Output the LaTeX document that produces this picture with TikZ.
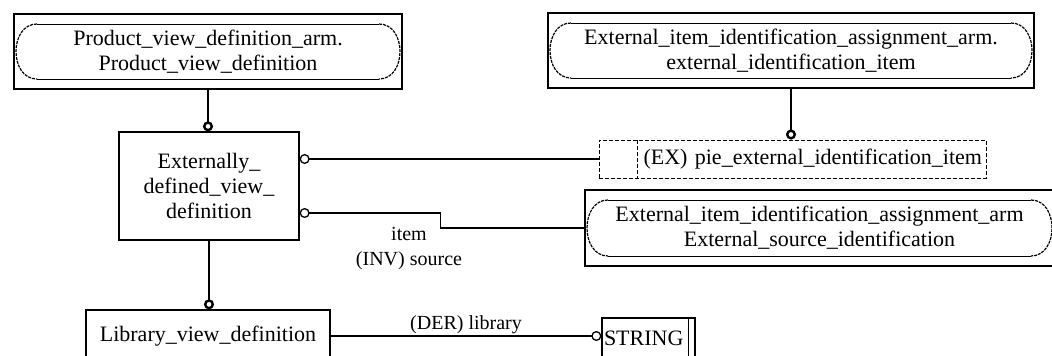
\documentclass[tikz,border=0pt]{standalone}
\usepackage{fontspec}
\setmainfont{Liberation Serif}
\usetikzlibrary{arrows.meta,calc,positioning}

% rounded inner outline with broken ends
\newcommand{\armoutline}{%
\draw[line width=1pt]
  ([xshift=23pt,yshift=-10pt]path picture bounding box.north west) --
  ([xshift=-23pt,yshift=-10pt]path picture bounding box.north east);
\draw[line width=1pt]
  ([xshift=23pt,yshift=10pt]path picture bounding box.south west) --
  ([xshift=-23pt,yshift=10pt]path picture bounding box.south east);
\draw[line width=1.2pt,dash pattern=on 3pt off 1pt]
  ([xshift=23pt,yshift=-10pt]path picture bounding box.north west)
  .. controls ([xshift=-5pt,yshift=-10pt]path picture bounding box.north west)
  and ([xshift=-5pt,yshift=10pt]path picture bounding box.south west) ..
  ([xshift=23pt,yshift=10pt]path picture bounding box.south west);
\draw[line width=1.2pt,dash pattern=on 3pt off 1pt]
  ([xshift=-23pt,yshift=-10pt]path picture bounding box.north east)
  .. controls ([xshift=5pt,yshift=-10pt]path picture bounding box.north east)
  and ([xshift=5pt,yshift=10pt]path picture bounding box.south east) ..
  ([xshift=-23pt,yshift=10pt]path picture bounding box.south east);
}

\begin{document}
\begin{tikzpicture}[
x=1pt,y=-1pt,
font=\fontsize{22}{25}\selectfont,
armbox/.style={
  draw,
  line width=1.3pt,
  minimum height=75pt,
  align=center,
  inner sep=0pt,
  path picture={\armoutline}
},
entbox/.style={
  draw,
  line width=1.3pt,
  align=center,
  inner sep=0pt
},
piebox/.style={
  draw,
  line width=1pt,
  dash pattern=on 4pt off 2pt,
  minimum width=387pt,
  minimum height=38pt,
  text width=379pt,
  inner xsep=4pt,
  align=right
},
link/.style={line width=1.3pt},
stem/.style={line width=2.4pt},
ringend/.style={-{Circle[open,length=10pt,width=10pt]}},
ringstart/.style={{Circle[open,length=10pt,width=10pt]}-},
lbl/.style={font=\fontsize{20}{25}\selectfont,align=center}
]
\useasboundingbox (0,0) rectangle (1052,356);

\node[armbox,minimum width=388pt] at (208,51.5)
  (pvd) {Product\_view\_definition\_arm.\\Product\_view\_definition};
\node[armbox,minimum width=486pt] at (791,50.5)
  (eia) {External\_item\_identification\_assignment\_arm.\\external\_identification\_item};
\node[entbox,minimum width=180pt,minimum height=108pt] at (209,186)
  (edvd) {Externally\_\\defined\_view\_\\definition};
\node[piebox] at (792.5,159)
  (pie) {(EX) pie\_external\_identification\_item};
\draw[line width=1pt,dash pattern=on 4pt off 2pt]
  ([xshift=39pt]pie.north west) -- ([xshift=39pt]pie.south west);
\node[armbox,minimum width=469pt,minimum height=76pt] at (819.5,228)
  (esi) {External\_item\_identification\_assignment\_arm\\External\_source\_identification};
\node[entbox,minimum width=244pt,minimum height=52pt] at (208,336)
  (lib) {Library\_view\_definition};
\node[entbox,minimum width=93pt,minimum height=40pt,text width=89pt,inner xsep=2pt,align=left] at (648.5,338)
  (str) {STRING};
\draw[line width=1.3pt] ([xshift=-7pt]str.north east) -- ([xshift=-7pt]str.south east);

\draw[stem,ringend] (pvd.south) -- (pvd.south |- edvd.north);
\draw[stem,ringend] (eia.south) -- (eia.south |- pie.north);
\draw[stem,ringend] (edvd.south) -- (edvd.south |- lib.north);

\draw[link,ringstart] (edvd.east |- pie.west) -- (pie.west);
\coordinate (srcend) at ([yshift=-27pt]edvd.east);
\draw[link,ringstart] (srcend) -- ++(141,0) |- (esi.west);
\node[lbl] at (409,249) (srclbl) {item\\(INV) source};

\draw[link,ringend] (lib.east) -- node[lbl,above=-2pt] (derlbl) {(DER) library} (lib.east -| str.west);
\end{tikzpicture}
\end{document}
